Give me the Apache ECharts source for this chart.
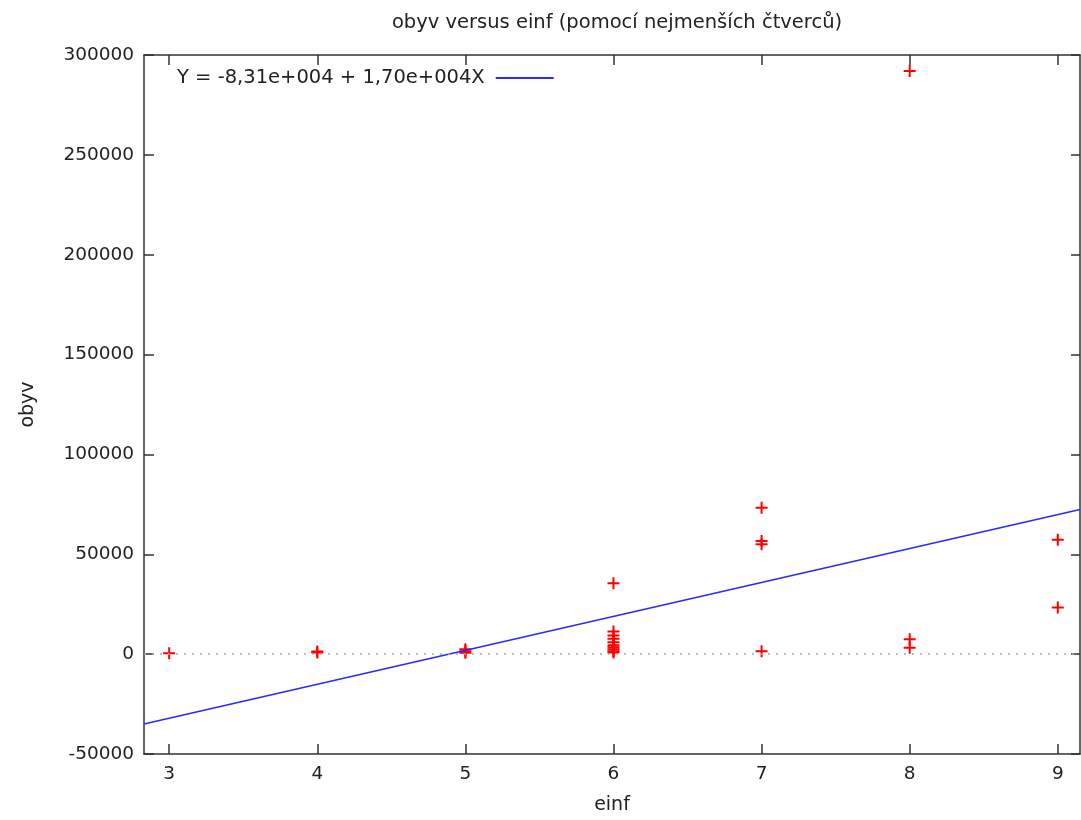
<!DOCTYPE html>
<html><head><meta charset="utf-8">
<script src="https://cdn.jsdelivr.net/npm/echarts@6/dist/echarts.min.js"></script>
<style>html,body{margin:0;padding:0;background:#fff}#c{width:1081px;height:820px}</style>
</head><body><div id="c"></div>
<script>
const xTicks = [3, 4, 5, 6, 7, 8, 9];
const einf = [3, 4, 4, 5, 5, 5, 6, 6, 6, 6, 6, 6, 6, 6, 6, 6, 7, 7, 7, 7, 8, 8, 8, 9, 9];
const obyv = [500, 800, 1300, 700, 1500, 2500, 35500, 11300, 9300, 7700, 6000, 4500, 3500, 2500, 1500, 800, 73300, 56700, 55000, 1500, 292000, 7500, 3200, 57300, 23300];
const intercept = -83100;
const slope = 17000;
const xRange = [2.83, 9.15];
const legendText = 'Y = -8,31e+004 + 1,70e+004X';

const pts = einf.map((x, i) => [x, obyv[i]]);
const fit = xRange.map(x => [x, intercept + slope * x]);
const font = 'DejaVu Sans';
const axisLine = {show: true, onZero: false, lineStyle: {color: '#333', width: 1.5}};
const tickStyle = {color: '#333', width: 1.5};
const chart = echarts.init(document.getElementById('c'));
chart.setOption({
  animation: false,
  textStyle: {fontFamily: font},
  title: {text: 'obyv versus einf (pomocí nejmenších čtverců)', left: 612, textAlign: 'center', top: 8,
    textStyle: {fontFamily: font, fontSize: 19.5, fontWeight: 'normal', color: '#222'}},
  legend: {show: true, left: 172, top: 63, data: [{name: legendText, icon: 'rect'}], align: 'right',
    itemWidth: 58, itemHeight: 2, itemGap: 0,
    textStyle: {fontFamily: font, fontSize: 19.5, color: '#222', padding: [0, 6, 0, 0]}},
  grid: {left: 144, right: 1, top: 55, bottom: 66, containLabel: false},
  xAxis: [{
    type: 'value', min: xRange[0], max: xRange[1], position: 'bottom',
    name: 'einf', nameLocation: 'middle', nameGap: 42,
    nameTextStyle: {fontFamily: font, fontSize: 19, color: '#222'},
    axisLine: axisLine, splitLine: {show: false},
    axisTick: {inside: true, length: 10, customValues: xTicks, lineStyle: tickStyle},
    axisLabel: {customValues: xTicks, fontFamily: font, fontSize: 18.5, color: '#222', margin: 11}
  }, {
    type: 'value', min: xRange[0], max: xRange[1], position: 'top',
    axisLine: axisLine, splitLine: {show: false},
    axisTick: {inside: true, length: 10, customValues: xTicks, lineStyle: tickStyle},
    axisLabel: {show: false}
  }],
  yAxis: [{
    type: 'value', min: -50000, max: 300000, interval: 50000, position: 'left',
    name: 'obyv', nameLocation: 'middle', nameGap: 106, nameRotate: 90,
    nameTextStyle: {fontFamily: font, fontSize: 19, color: '#222'},
    axisLine: axisLine, splitLine: {show: false},
    axisTick: {inside: true, length: 10, lineStyle: tickStyle},
    axisLabel: {fontFamily: font, fontSize: 18.5, color: '#222', margin: 10, formatter: v => String(v)}
  }, {
    type: 'value', min: -50000, max: 300000, interval: 50000, position: 'right',
    axisLine: axisLine, splitLine: {show: false},
    axisTick: {inside: true, length: 9, lineStyle: tickStyle},
    axisLabel: {show: false}
  }],
  series: [{
    type: 'scatter', name: 'data', data: pts,
    symbol: 'path://M5,0H7V5H12V7H7V12H5V7H0V5H5Z', symbolSize: 12,
    itemStyle: {color: '#ff0000', opacity: 1},
    markLine: {silent: true, symbol: 'none', label: {show: false},
      lineStyle: {color: '#aaa', type: [2, 6], width: 1.5},
      data: [{yAxis: 0}]},
    z: 3
  }, {
    type: 'line', name: legendText, data: fit, showSymbol: false, symbol: 'none',
    lineStyle: {color: '#2a2aff', width: 1.5}, itemStyle: {color: '#2a2aff'}, z: 4
  }]
});
</script></body></html>
